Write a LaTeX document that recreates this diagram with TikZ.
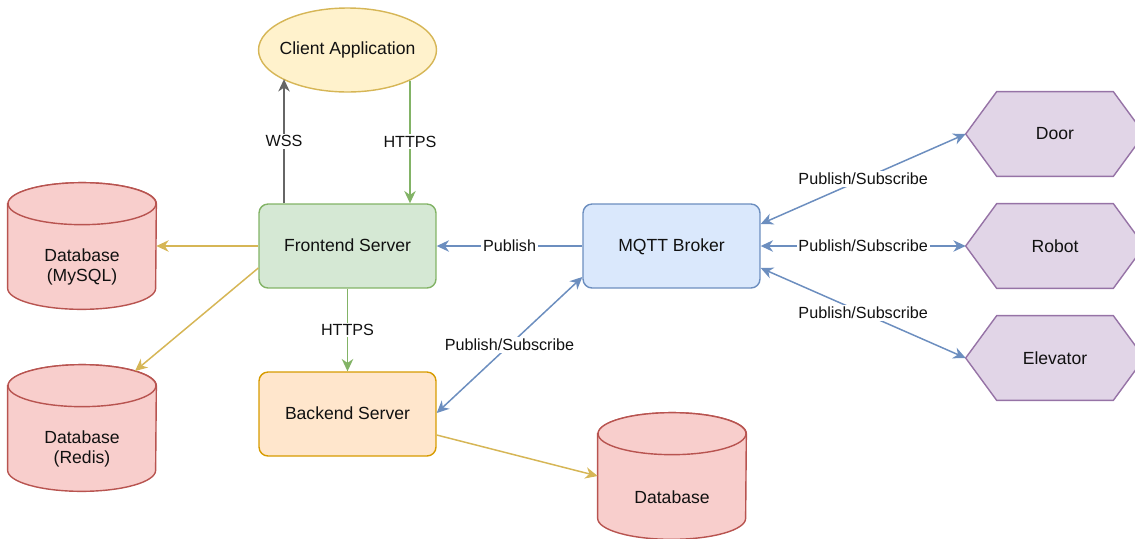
\documentclass[tikz,border=0pt]{standalone}
\usepackage{fontspec}
\setmainfont{Liberation Sans}
\usetikzlibrary{arrows.meta,shapes.geometric,calc,backgrounds}

\definecolor{yelFill}{HTML}{FFF2CC}\definecolor{yelLine}{HTML}{D6B656}
\definecolor{grnFill}{HTML}{D5E8D4}\definecolor{grnLine}{HTML}{82B366}
\definecolor{bluFill}{HTML}{DAE8FC}\definecolor{bluLine}{HTML}{6C8EBF}
\definecolor{orgFill}{HTML}{FFE6CC}\definecolor{orgLine}{HTML}{D79B00}
\definecolor{redFill}{HTML}{F8CECC}\definecolor{redLine}{HTML}{B85450}
\definecolor{purFill}{HTML}{E1D5E7}\definecolor{purLine}{HTML}{9673A6}
\definecolor{wssLine}{HTML}{666666}
\definecolor{txt}{HTML}{111111}

\newcommand\nodefont{\fontsize{10}{11.7}\selectfont}
\newcommand\lblfont{\fontsize{9.2}{10.8}\selectfont}

% cylinder outline around an (invisible) node box
\newcommand\dbshape[1]{%
  \path[dbline]
    ($(#1.north west)+(0,-21)$) -- ($(#1.south west)+(0,21)$)
    arc[start angle=180,end angle=360,x radius=1.48cm,y radius=0.42cm]
    -- ($(#1.north east)+(0,-21)$)
    arc[start angle=0,end angle=180,x radius=1.48cm,y radius=0.42cm] -- cycle;
  \path[dbline] ($(#1.north)+(0,-21)$) ellipse[x radius=1.48cm,y radius=0.42cm];
}
% elongated hexagon around an (invisible) node box
\newcommand\hexshape[1]{%
  \path[hexline] (#1.west) -- ($(#1.north west)+(31,0)$) -- ($(#1.north east)+(-31,0)$)
    -- (#1.east) -- ($(#1.south east)+(-31,0)$) -- ($(#1.south west)+(31,0)$) -- cycle;
}

\begin{document}
\begin{tikzpicture}[x=0.02cm,y=0.02cm,
  every node/.style={text=txt},
  box/.style={draw, rounded corners=0.18cm, line width=0.8pt, minimum width=3.54cm,
    minimum height=1.68cm, font=\nodefont, align=center, text depth=0.5pt},
  dbbox/.style={minimum width=2.96cm, minimum height=2.52cm, inner sep=0pt},
  dbtext/.style={font=\nodefont, align=center},
  dbline/.style={fill=redFill, draw=redLine, line width=0.8pt},
  hexbox/.style={minimum width=3.56cm, minimum height=1.68cm, inner sep=0pt, font=\nodefont},
  hexline/.style={fill=purFill, draw=purLine, line width=0.8pt},
  tip/.tip={Stealth[length=7pt,width=6.5pt,inset=2.2pt]},
  arr/.style={-tip, line width=0.85pt},
  biarr/.style={tip-tip, line width=0.85pt, draw=bluLine},
  lbl/.style={fill=white, inner sep=1pt, font=\lblfont}]

\useasboundingbox (0,0) rectangle (1135,-538);

% main boxes
\node[ellipse, draw=yelLine, fill=yelFill, line width=0.8pt, inner sep=0pt,
      minimum width=3.56cm, minimum height=1.68cm, font=\nodefont]
      (client) at (347.5,-50) {\makebox[0pt]{Client Application}};
\node[box, draw=grnLine, fill=grnFill] (front) at (347.5,-246) {Frontend Server};
\node[box, draw=bluLine, fill=bluFill] (mqtt) at (671.5,-246) {MQTT Broker};
\node[box, draw=orgLine, fill=orgFill] (back) at (347.5,-414) {Backend Server};

% databases
\node[dbbox] (mysql) at (82,-246) {};
\node[dbbox] (redis) at (82,-428) {};
\node[dbbox] (db) at (672,-476) {};
\node[dbtext] (mysqltxt) at (82,-267) {Database\\(MySQL)};
\node[dbtext] (redistxt) at (82,-449) {Database\\(Redis)};
\node[dbtext] (dbtxt) at (672,-497) {Database};

% devices
\node[hexbox] (door) at (1055,-134) {Door};
\node[hexbox] (robot) at (1055,-246) {Robot};
\node[hexbox] (elev) at (1055,-358) {Elevator};

\begin{scope}[on background layer]
  \dbshape{mysql}\dbshape{redis}\dbshape{db}
  \hexshape{door}\hexshape{robot}\hexshape{elev}
\end{scope}

% connectors
\coordinate (wssfoot) at ([xshift=-1.27cm]front.north);
\coordinate (httpsfoot) at ([xshift=1.25cm]front.north);
\draw[arr, draw=wssLine] (wssfoot) -- (wssfoot |- client.204.8)
  node[lbl, pos=0.5] (wsslbl) {WSS};
\draw[arr, draw=grnLine] (httpsfoot |- client.334.4) -- (httpsfoot)
  node[lbl, pos=0.5] (httpslbl) {HTTPS};
\draw[arr, draw=yelLine] (front.west) -- (mysql.east);
\coordinate (redistop) at (135,-371);
\draw[arr, draw=yelLine] ([yshift=-0.44cm]front.west) -- (redistop);
\draw[arr, draw=grnLine] (front.south) -- (back.north)
  node[lbl, pos=0.5] (httpslbl2) {HTTPS};
\draw[arr, draw=bluLine] (mqtt.west) -- (front.east)
  node[lbl, pos=0.5] (publbl) {Publish};
\draw[biarr] ([yshift=-0.62cm]mqtt.west) -- ([yshift=0.02cm]back.east)
  node[lbl, pos=0.5] (pslbl) {Publish/Subscribe};
\draw[biarr] ([yshift=0.44cm]mqtt.east) -- (door.west)
  node[lbl, pos=0.5] (pslbl1) {Publish/Subscribe};
\draw[biarr] (mqtt.east) -- (robot.west)
  node[lbl, pos=0.5] (pslbl2) {Publish/Subscribe};
\draw[biarr] ([yshift=-0.44cm]mqtt.east) -- (elev.west)
  node[lbl, pos=0.5] (pslbl3) {Publish/Subscribe};
\draw[arr, draw=yelLine] ([yshift=-0.42cm]back.east) -- (db.west);

\end{tikzpicture}
\end{document}
